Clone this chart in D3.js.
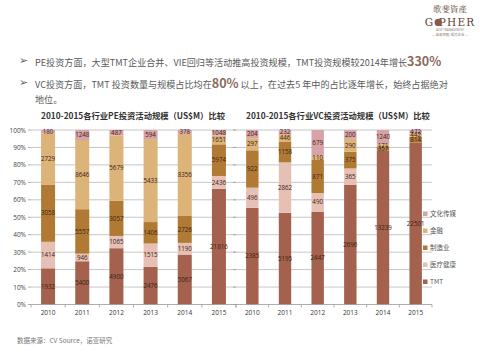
<!DOCTYPE html>
<html><head><meta charset="utf-8">
<script src="https://cdn.jsdelivr.net/npm/d3@7"></script>
<style>body{margin:0;background:#fff}svg{display:block}</style>
</head><body><svg id="c" width="480" height="360"></svg>
<script>
const years = ["2010","2011","2012","2013","2014","2015"];
const sectors = ["TMT","医疗健康","制造业","金融","文化传媒"];
const peTMT    = [1932,5400,4900,2476,5067,21816];
const peHealth = [1414,946,1065,1515,1190,2436];
const peMfg    = [3058,5557,3057,1406,2726,5974];
const peFin    = [2729,8646,5679,5433,8356,1651];
const peMedia  = [180,1248,487,594,378,1048];
const vcTMT    = [2385,5195,2447,2696,13239,22501];
const vcHealth = [496,2862,490,365,0,0];
const vcMfg    = [922,1158,871,375,357,814];
const vcFin    = [297,446,110,290,171,442];
const vcMedia  = [204,232,679,200,1240,472];
const yTickLabels = ["0%","10%","20%","30%","40%","50%","60%","70%","80%","90%","100%"];
const legendOrder = ["文化传媒","金融","制造业","医疗健康","TMT"];
const colors = {"TMT":"#A4614D","医疗健康":"#E6C0B4","制造业":"#B17A34","金融":"#DCB379","文化传媒":"#D8A3A7"};

const svg = d3.select("#c");
const CJK = "'Noto Sans CJK SC','Noto Sans',sans-serif";
const LAT = "'Open Sans','Liberation Sans',sans-serif";

function rows(arrs){
  return years.map((yr,i)=>{const o={year:yr}; sectors.forEach((s,k)=>o[s]=arrs[k][i]); return o;});
}
const peData = rows([peTMT,peHealth,peMfg,peFin,peMedia]);
const vcData = rows([vcTMT,vcHealth,vcMfg,vcFin,vcMedia]);

const y = d3.scaleLinear().domain([0,1]).range([304.5,130]);
const stack = d3.stack().keys(sectors).offset(d3.stackOffsetExpand);

function drawChart(data, x0, x1, padInner, yLabels){
  const g = svg.append("g");
  const x = d3.scaleBand().domain(years).range([x0,x1]).paddingInner(padInner).paddingOuter(padInner/2);
  g.selectAll("line.grid").data(d3.range(1,11)).join("line")
    .attr("x1",x0).attr("x2",x1).attr("y1",d=>y(d/10)).attr("y2",d=>y(d/10))
    .attr("stroke","#b8b8b8").attr("stroke-width",0.8);
  g.selectAll("line.yt").data(d3.range(0,11)).join("line")
    .attr("x1",x0-3).attr("x2",x0).attr("y1",d=>y(d/10)).attr("y2",d=>y(d/10))
    .attr("stroke","#999").attr("stroke-width",0.8);
  if(yLabels){
    const ya = d3.axisLeft(y).tickValues(d3.range(0,11).map(d=>d/10)).tickFormat((d,i)=>yTickLabels[i]).tickSize(0).tickPadding(5);
    const ag = g.append("g").attr("transform",`translate(${x0},0)`).call(ya);
    ag.select(".domain").remove();
    ag.selectAll("text").attr("font-family",LAT).attr("font-size",6.5).attr("fill","#444");
  }
  const series = stack(data);
  series.forEach(s=>{
    const key = s.key;
    g.selectAll(null).data(s).join("rect")
      .attr("x",d=>x(d.data.year)).attr("width",x.bandwidth())
      .attr("y",d=>y(d[1])).attr("height",d=>Math.max(0,y(d[0])-y(d[1])))
      .attr("fill",colors[key]);
  });
  series.forEach(s=>{
    const key = s.key;
    g.selectAll(null).data(s.filter(d=>d.data[key]>0)).join("text")
      .attr("x",d=>x(d.data.year)+x.bandwidth()/2)
      .attr("y",d=>(y(d[0])+y(d[1]))/2)
      .attr("dy","0.35em").attr("text-anchor","middle")
      .attr("font-family",LAT).attr("font-size",6.2).attr("fill","#3a2216")
      .text(d=>d.data[key]);
  });
  const xa = d3.axisBottom(x).tickSize(0).tickPadding(6);
  const xg = g.append("g").attr("transform",`translate(0,${y(0)})`).call(xa);
  xg.select(".domain").attr("stroke","#999").attr("stroke-width",0.8).attr("d",`M${x0},0H${x1}`);
  xg.selectAll("text").attr("font-family",LAT).attr("font-size",6.5).attr("fill","#333");
  g.selectAll("line.xt").data(d3.range(0,7)).join("line")
    .attr("x1",d=>x0+d*(x1-x0)/6).attr("x2",d=>x0+d*(x1-x0)/6)
    .attr("y1",y(0)).attr("y2",y(0)+3).attr("stroke","#999").attr("stroke-width",0.8);
}
drawChart(peData, 31, 236, 0.59, true);
drawChart(vcData, 236, 432, 0.62, false);

svg.append("text").attr("x",133).attr("y",119).attr("text-anchor","middle")
  .attr("font-family",CJK).attr("font-weight","bold").attr("font-size",8.3).attr("fill","#333")
  .text("2010-2015各行业PE投资活动规模（US$M）比较");
svg.append("text").attr("x",338).attr("y",119).attr("text-anchor","middle")
  .attr("font-family",CJK).attr("font-weight","bold").attr("font-size",8.3).attr("fill","#333")
  .text("2010-2015各行业VC投资活动规模（US$M）比较");

const lg = svg.append("g");
legendOrder.forEach((k,i)=>{
  const ly = 214 + i*17;
  lg.append("rect").attr("x",423).attr("y",ly-2.5).attr("width",4.5).attr("height",4.5).attr("fill",colors[k]);
  lg.append("text").attr("x",430).attr("y",ly).attr("dy","0.35em")
    .attr("font-family",CJK).attr("font-size",6.5).attr("fill","#555").text(k);
});

function bullet(yy, parts){
  svg.append("text").attr("x",19).attr("y",yy).attr("dy","0.35em").attr("font-family","'DejaVu Sans',sans-serif")
    .attr("font-size",11).attr("fill","#666").text("➢");
  const t = svg.append("text").attr("x",35).attr("y",yy).attr("dy","0.35em").attr("font-family",CJK).attr("fill","#595959");
  parts.forEach(p=>{
    t.append("tspan").attr("font-size",p.b?12.5:9.1).attr("font-weight",p.b?"bold":"normal").attr("fill",p.b?"#8a6a5a":"#595959").text(p.t);
  });
}
bullet(60,[{t:"PE投资方面，大型TMT企业合并、VIE回归等活动推高投资规模，TMT投资规模较2014年增长"},{t:"330%",b:true}]);
bullet(82,[{t:"VC投资方面，TMT 投资数量与规模占比均在"},{t:"80%",b:true},{t:" 以上，在过去5 年中的占比逐年增长，始终占据绝对"}]);
svg.append("text").attr("x",35).attr("y",100).attr("dy","0.35em").attr("font-family",CJK).attr("font-size",9.1).attr("fill","#595959").text("地位。");

svg.append("text").attr("x",17).attr("y",341).attr("dy","0.35em").attr("font-family",CJK).attr("font-size",6.5).attr("fill","#777")
  .text("数据来源：CV Source，诺亚研究");

const lo = svg.append("g");
lo.append("text").attr("x",450).attr("y",12).attr("text-anchor","middle").attr("font-family","'Noto Serif CJK SC','Noto Sans CJK TC',serif")
  .attr("font-size",8.5).attr("fill","#5a3f33").text("歌斐資產");
lo.append("text").attr("x",450).attr("y",26).attr("text-anchor","middle").attr("font-family","'DejaVu Serif','Liberation Serif',serif")
  .attr("font-size",10.5).attr("letter-spacing",1.2).attr("fill","#5a3f33").text("G PHER");
lo.append("circle").attr("cx",438.2).attr("cy",22.4).attr("r",3.6).attr("fill","#8a5a45");
lo.append("text").attr("x",450).attr("y",31).attr("text-anchor","middle").attr("font-family",LAT)
  .attr("font-size",2.8).attr("fill","#8a7a70").text("ASSET MANAGEMENT");
lo.append("text").attr("x",450).attr("y",36).attr("text-anchor","middle").attr("font-family",CJK)
  .attr("font-size",3.5).attr("fill","#8a7a70").text("— 诺亚控股 成员企业 —");
</script></body></html>
